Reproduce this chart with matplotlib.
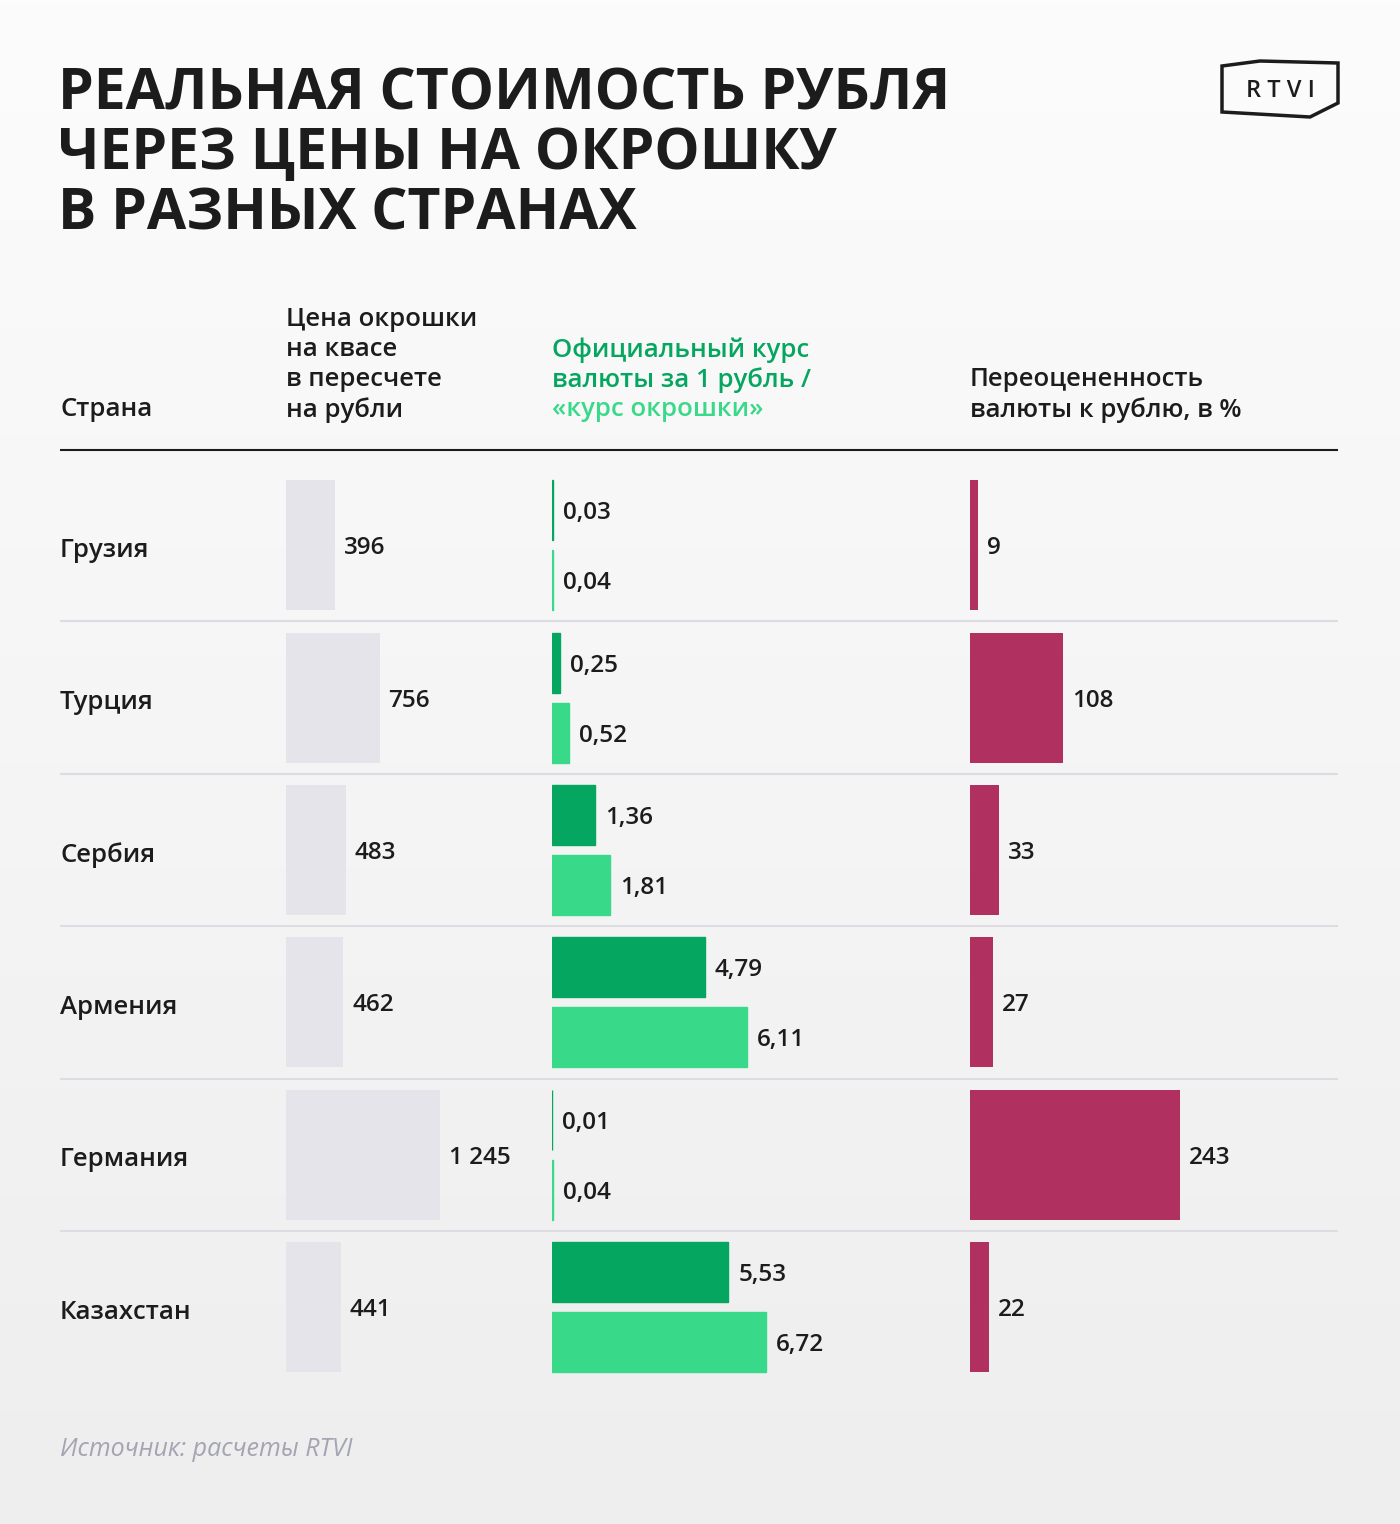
import numpy as np
import matplotlib.pyplot as plt
from matplotlib.patches import Polygon

plt.rcParams['font.family'] = ['Open Sans', 'DejaVu Sans']

# Data
countries = ['Грузия', 'Турция', 'Сербия', 'Армения', 'Германия', 'Казахстан']
price_rub = [396, 756, 483, 462, 1245, 441]
official_rate = [0.03, 0.25, 1.36, 4.79, 0.01, 5.53]
okroshka_rate = [0.04, 0.52, 1.81, 6.11, 0.04, 6.72]
overvalued_pct = [9, 108, 33, 27, 243, 22]

# Colors
bg_top, bg_bottom = '#fcfcfc', '#eeeeef'
gray_bar = '#e4e4ea'
dark_green = '#05a660'
light_green = '#39d98a'
crimson = '#b0305f'
text_col = '#1c1c1c'
sep_col = '#dcdce2'

W, H = 1400, 1524
fig = plt.figure(figsize=(W / 100, H / 100), dpi=100)

# background axes in pixel coordinates
bg = fig.add_axes([0, 0, 1, 1])
bg.set_xlim(0, W)
bg.set_ylim(H, 0)
bg.axis('off')
c1 = np.array(plt.matplotlib.colors.to_rgb(bg_top))
c2 = np.array(plt.matplotlib.colors.to_rgb(bg_bottom))
t = np.linspace(0, 1, 256)[:, None, None]
grad = c1 * (1 - t) + c2 * t
bg.imshow(grad, extent=[0, W, H, 0], aspect='auto', zorder=0)

# title
title_lines = ['РЕАЛЬНАЯ СТОИМОСТЬ РУБЛЯ', 'ЧЕРЕЗ ЦЕНЫ НА ОКРОШКУ', 'В РАЗНЫХ СТРАНАХ']
for i, line in enumerate(title_lines):
    bg.text(58, 94 + i * 60, line, fontsize=41, fontweight='bold', color=text_col,
            va='center', ha='left')

# logo
logo = Polygon([(1222, 66), (1260, 61), (1338, 63), (1338, 103), (1310, 117), (1222, 112)],
               closed=True, fill=False, edgecolor='#1c1c1c', linewidth=2.5)
bg.add_patch(logo)
bg.text(1280, 91, 'R T V I', fontsize=17, fontweight='semibold', color=text_col,
        ha='center', va='center')

# column headers
hdr_size = 18.5
val_size = 17.5
line_h = 30
dy = 3
bg.text(60, 407 + dy, 'Страна', fontsize=hdr_size, fontweight='semibold', color=text_col, va='center')
for i, s in enumerate(['Цена окрошки', 'на квасе', 'в пересчете', 'на рубли']):
    bg.text(286, 317 + i * line_h + dy, s, fontsize=hdr_size, fontweight='semibold',
            color=text_col, va='center')
bg.text(552, 347 + dy, 'Официальный курс', fontsize=hdr_size, fontweight='semibold',
        color=dark_green, va='center')
bg.text(552, 377 + dy, 'валюты за 1 рубль /', fontsize=hdr_size, fontweight='semibold',
        color=dark_green, va='center')
bg.text(552, 407 + dy, '«курс окрошки»', fontsize=hdr_size, fontweight='semibold',
        color=light_green, va='center')
bg.text(970, 377 + dy, 'Переоцененность', fontsize=hdr_size, fontweight='semibold',
        color=text_col, va='center')
bg.text(970, 407 + dy, 'валюты к рублю, в %', fontsize=hdr_size, fontweight='semibold',
        color=text_col, va='center')

# table geometry (pixels)
top_px, row_px = 469, 152.4
n = len(countries)
bg.hlines(450, 60, 1338, color='#1c1c1c', linewidth=1.5)
bg.hlines([top_px + row_px * k for k in range(1, n)], 60, 1338, color=sep_col, linewidth=1.5)
for i, c in enumerate(countries):
    bg.text(60, top_px + row_px * (i + 0.5) + 5, c, fontsize=hdr_size, fontweight='semibold',
            color=text_col, va='center')

bg.text(60, 1449, 'Источник: расчеты RTVI', fontsize=18, style='italic',
        color='#a4a4b2', va='center')


def col_axes(x_px, w_px):
    ax = fig.add_axes([x_px / W, 1 - (top_px + row_px * n) / H, w_px / W, row_px * n / H])
    ax.set_ylim(n - 0.5, -0.5)
    ax.axis('off')
    ax.patch.set_alpha(0)
    return ax


def fmt(v):
    if isinstance(v, float):
        return f'{v:.2f}'.replace('.', ',')
    return f'{v:,}'.replace(',', ' ')


y = np.arange(n)
bar_h = 130 / row_px
txt_dy = 3 / row_px

# price column
ax1 = col_axes(286, 250)
ax1.set_xlim(0, 250 / 0.1237)
ax1.barh(y, price_rub, height=bar_h, color=gray_bar)
for yi, v in zip(y, price_rub):
    ax1.text(v + 9 / 0.1237, yi + txt_dy, fmt(v), fontsize=val_size, fontweight='semibold',
             color=text_col, va='center')

# rate column
k2 = 31.9
ax2 = col_axes(552, 380)
ax2.set_xlim(0, 380 / k2)
sub_h = 60 / row_px
off = 35 / row_px
ax2.barh(y - off, official_rate, height=sub_h, color=dark_green,
         edgecolor=dark_green, linewidth=1)
ax2.barh(y + off, okroshka_rate, height=sub_h, color=light_green,
         edgecolor=light_green, linewidth=1)
for yi, v in zip(y, official_rate):
    ax2.text(v + 10 / k2, yi - off + txt_dy, fmt(v), fontsize=val_size, fontweight='semibold',
             color=text_col, va='center')
for yi, v in zip(y, okroshka_rate):
    ax2.text(v + 10 / k2, yi + off + txt_dy, fmt(v), fontsize=val_size, fontweight='semibold',
             color=text_col, va='center')

# overvaluation column
ax3 = col_axes(970, 368)
ax3.set_xlim(0, 368 / 0.864)
ax3.barh(y, overvalued_pct, height=bar_h, color=crimson)
for yi, v in zip(y, overvalued_pct):
    ax3.text(v + 9 / 0.864, yi + txt_dy, fmt(v), fontsize=val_size, fontweight='semibold',
             color=text_col, va='center')

fig.savefig('out.png', dpi=100)
